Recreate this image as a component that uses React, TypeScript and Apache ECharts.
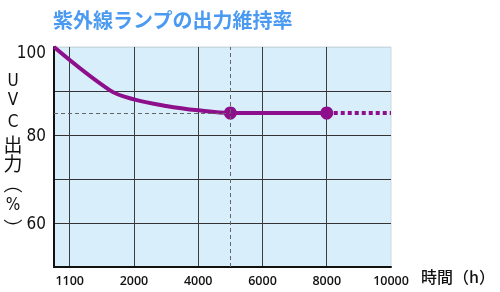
import React, { useEffect, useRef } from 'react';
import * as echarts from 'echarts';

// Axis tick labels (hours) — the axis is evenly spaced between these ticks
const hourTicks = [1100, 2000, 4000, 6000, 8000, 10000];
// Y axis labels shown
const yShownLabels = [100, 80, 60];

// Measured curve (solid part)
const solidHours = [880, 1670, 2000, 3000, 4000, 5000, 6000, 8000];
const solidOutput = [100, 90.1, 88.1, 86.6, 85.6, 85, 85, 85];
// Projected part (dotted)
const dottedHours = [8000, 10000];
const dottedOutput = [85, 85];
// Highlighted points
const markerHours = [5000, 8000];
const markerOutput = [85, 85];
// Reference guide (dashed)
const refHour = 5000;
const refOutput = 85;
const xStartHour = 880;

const TITLE = '紫外線ランプの出力維持率';
const X_NAME = '時間（h）';
const Y_NAME_CHARS = ['U', 'V', 'C', '出', '力', '︵', '%', '︶'];

const PURPLE = '#8e0f8c';

function hourToPos(h: number): number {
  const n = hourTicks.length;
  for (let i = 0; i < n - 1; i++) {
    if (h <= hourTicks[i + 1] || i === n - 2) {
      return i + (h - hourTicks[i]) / (hourTicks[i + 1] - hourTicks[i]);
    }
  }
  return n - 1;
}

export default function App() {
  const ref = useRef<HTMLDivElement>(null);
  useEffect(() => {
    if (!ref.current) return;
    const chart = echarts.init(ref.current, undefined, { renderer: 'svg' });
    const xMin = hourToPos(xStartHour);
    const xMax = hourTicks.length - 1;
    const tickPositions = hourTicks.map((_, i) => i);
    const yNameY = [79.5, 98.5, 121, 143, 162.5, 182, 204, 227];
    const narrow = '"Liberation Sans Narrow", "DejaVu Sans Condensed", sans-serif';

    const option: any = {
      animation: false,
      grid: {
        left: 54,
        right: 109,
        top: 47,
        bottom: 25,
        show: true,
        backgroundColor: '#d8effb',
        borderColor: '#c9d9e2',
        borderWidth: 1,
      },
      xAxis: {
        type: 'value',
        min: xMin,
        max: xMax,
        axisLine: { show: true, onZero: false, lineStyle: { color: '#111', width: 2 } },
        axisTick: { show: false, customValues: tickPositions.slice(0, -1) },
        axisLabel: {
          customValues: tickPositions,
          formatter: (v: number) => String(hourTicks[Math.round(v)]),
          fontFamily: '"Open Sans", sans-serif',
          fontWeight: 600,
          fontSize: 12.5,
          color: '#111',
          margin: 7,
        },
        splitLine: { show: true, lineStyle: { color: '#3c3c3c', width: 1 } },
      },
      yAxis: {
        type: 'value',
        min: 50,
        max: 100,
        interval: 10,
        axisLine: { show: true, onZero: false, lineStyle: { color: '#111', width: 2 } },
        axisTick: { show: false },
        axisLabel: {
          margin: 8,
          fontFamily: narrow,
          fontSize: 17,
          color: '#111',
          formatter: (v: number) => {
            if (v === 100) return '{top|100}';
            return yShownLabels.indexOf(v) >= 0 ? String(v) : '';
          },
          rich: {
            top: {
              padding: [9, 0, 0, 0],
              fontFamily: narrow,
              fontSize: 17,
              color: '#111',
            },
          },
        },
        splitLine: {
          show: true,
          lineStyle: { color: ['#333', '#333', '#333', '#333', '#333', '#c9d9e2'], width: 1 },
        },
      },
      series: [
        {
          type: 'line',
          data: [],
          z: 1,
          silent: true,
          markLine: {
            silent: true,
            symbol: 'none',
            label: { show: false },
            lineStyle: { color: '#666', type: [4, 3], width: 1 },
            data: [
              [{ coord: [xMin, refOutput] }, { coord: [hourToPos(refHour), refOutput] }],
              [{ coord: [hourToPos(refHour), 50] }, { coord: [hourToPos(refHour), 100] }],
            ],
          },
        },
        {
          type: 'line',
          z: 3,
          smooth: 0.35,
          symbol: 'none',
          lineStyle: { color: PURPLE, width: 4 },
          data: solidHours.map((h, i) => [hourToPos(h), solidOutput[i]]),
        },
        {
          type: 'line',
          z: 3,
          symbol: 'none',
          lineStyle: { color: PURPLE, width: 4, type: [4, 3] },
          data: dottedHours.map((h, i) => [hourToPos(h), dottedOutput[i]]),
        },
        {
          type: 'scatter',
          z: 4,
          symbolSize: 13,
          itemStyle: { color: PURPLE, opacity: 1 },
          data: markerHours.map((h, i) => [hourToPos(h), markerOutput[i]]),
        },
      ],
      graphic: [
        {
          type: 'text',
          left: 53,
          top: 9,
          style: {
            text: TITLE,
            font: 'bold 20px "Noto Sans CJK JP", sans-serif',
            fill: '#4a9af2',
          },
        },
        {
          type: 'text',
          left: 421,
          top: 268,
          style: {
            text: X_NAME,
            font: '500 16px "Noto Sans CJK JP", sans-serif',
            fill: '#111',
          },
        },
        ...Y_NAME_CHARS.map((c, i) => ({
          type: 'text',
          x: 13,
          y: yNameY[i],
          style: {
            text: c,
            textAlign: 'center',
            textVerticalAlign: 'middle',
            lineHeight: 16,
            font: /[UVC%]/.test(c)
              ? '17px ' + narrow
              : '19px "Noto Sans CJK JP", sans-serif',
            fill: '#111',
          },
        })),
      ],
    };
    chart.setOption(option);
    return () => chart.dispose();
  }, []);
  return (
    <div
      ref={ref}
      style={{ position: 'fixed', left: 0, top: 0, width: 500, height: 292 }}
    />
  );
}
